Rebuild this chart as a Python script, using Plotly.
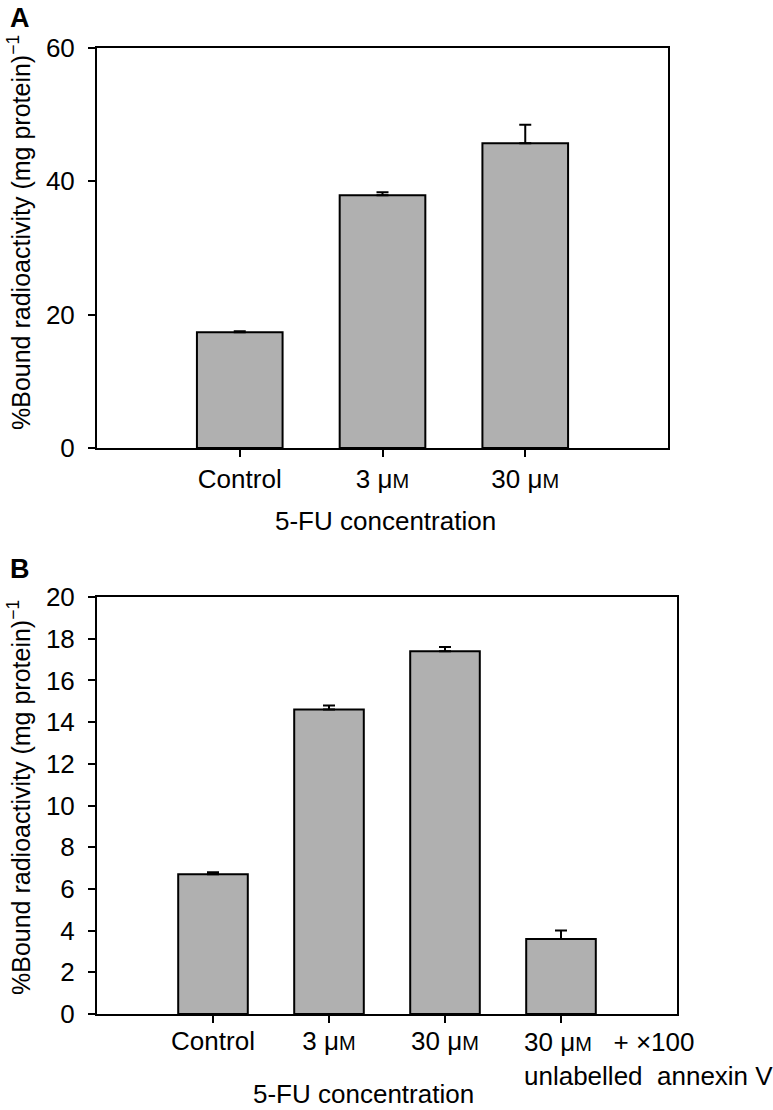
import plotly.graph_objects as go

# ---------------- data ----------------
ticks_a = ["Control", "3 μ<span style='font-size:20px'>M</span>", "30 μ<span style='font-size:20px'>M</span>"]
values_a = [17.35, 37.9, 45.7]
errors_a = [0.15, 0.45, 2.8]

ticks_b = ["Control", "3 μ<span style='font-size:20px'>M</span>", "30 μ<span style='font-size:20px'>M</span>"]
values_b = [6.7, 14.6, 17.4, 3.6]
errors_b = [0.1, 0.2, 0.2, 0.4]
last_label_b = "30 μ<span style='font-size:20px'>M</span>   + ×100<br>unlabelled  annexin V"

yticks_a = [0, 20, 40, 60]
yticks_b = [0, 2, 4, 6, 8, 10, 12, 14, 16, 18, 20]

x_title = "5-FU concentration"
y_title = "%Bound radioactivity (mg protein)<sup>−1</sup>"

# ---------------- layout helpers ----------------
W, H = 773, 1110
FONT = "Liberation Sans, Arial, Helvetica, sans-serif"
FS = 26
BAR_FILL = "#b0b0b0"


def px_x(p):
    return p / W


def px_y(p):
    return 1 - p / H


fig = go.Figure()

xa = list(range(len(values_a)))
xb = list(range(len(values_b)))

fig.add_trace(go.Bar(
    x=xa, y=values_a, width=0.6, xaxis="x", yaxis="y",
    marker=dict(color=BAR_FILL, line=dict(color="black", width=2)),
    error_y=dict(type="data", symmetric=False, array=errors_a,
                 arrayminus=[0] * len(errors_a), color="black",
                 thickness=2, width=6),
    showlegend=False, hoverinfo="skip",
))
fig.add_trace(go.Bar(
    x=xb, y=values_b, width=0.6, xaxis="x2", yaxis="y2",
    marker=dict(color=BAR_FILL, line=dict(color="black", width=2)),
    error_y=dict(type="data", symmetric=False, array=errors_b,
                 arrayminus=[0] * len(errors_b), color="black",
                 thickness=2, width=6),
    showlegend=False, hoverinfo="skip",
))

axis_common = dict(
    showline=True, linecolor="black", linewidth=2, mirror=True,
    ticks="outside", ticklen=7, tickwidth=2, tickcolor="black",
    showgrid=False, zeroline=False, automargin=False,
    tickfont=dict(family=FONT, size=FS, color="black"),
)

fig.update_layout(
    template="none",
    width=W, height=H, autosize=False,
    margin=dict(l=0, r=0, t=0, b=0, pad=0),
    paper_bgcolor="white", plot_bgcolor="white",
    font=dict(family=FONT, size=FS, color="black"),
    xaxis=dict(axis_common, domain=[px_x(97), px_x(668)], anchor="y",
               range=[-1, 3], tickvals=xa, ticktext=ticks_a,
               ticklabelstandoff=0),
    yaxis=dict(axis_common, domain=[px_y(448), px_y(48)], anchor="x",
               range=[0, 60], tickvals=yticks_a, ticklabelstandoff=8),
    xaxis2=dict(axis_common, domain=[px_x(97), px_x(677)], anchor="y2",
                range=[-1, 4], tickvals=xb[:3], ticktext=ticks_b,
                ticklabelstandoff=-4,
                minor=dict(tickvals=xb[3:], ticks="outside", ticklen=7,
                           tickwidth=2, tickcolor="black", showgrid=False)),
    yaxis2=dict(axis_common, domain=[px_y(1014), px_y(597)], anchor="x2",
                range=[0, 20], tickvals=yticks_b, ticklabelstandoff=8),
)

ann = []
# panel letters
ann.append(dict(text="<b>A</b>", x=px_x(20), y=px_y(18), xref="paper", yref="paper",
                showarrow=False, font=dict(size=27), xanchor="center", yanchor="middle"))
ann.append(dict(text="<b>B</b>", x=px_x(20), y=px_y(569), xref="paper", yref="paper",
                showarrow=False, font=dict(size=27), xanchor="center", yanchor="middle"))
# y titles
ann.append(dict(text=y_title, x=px_x(19), y=px_y(233), xref="paper", yref="paper",
                textangle=-90, showarrow=False, xanchor="center", yanchor="middle",
                font=dict(size=25)))
ann.append(dict(text=y_title, x=px_x(19), y=px_y(798), xref="paper", yref="paper",
                textangle=-90, showarrow=False, xanchor="center", yanchor="middle",
                font=dict(size=25)))
# x titles
ann.append(dict(text=x_title, x=px_x(385), y=px_y(521), xref="paper", yref="paper",
                showarrow=False, xanchor="center", yanchor="middle"))
ann.append(dict(text=x_title, x=px_x(363), y=px_y(1094), xref="paper", yref="paper",
                showarrow=False, xanchor="center", yanchor="middle"))
# last category label in panel B (left aligned, two lines)
ann.append(dict(text=last_label_b, x=xb[3], xref="x2", xshift=-39,
                y=px_y(1025), yref="paper", showarrow=False, align="left",
                xanchor="left", yanchor="top"))

fig.update_layout(annotations=ann)

fig.write_html("out.html", config={"displayModeBar": False},
               post_script="document.body.style.margin='0px';")
